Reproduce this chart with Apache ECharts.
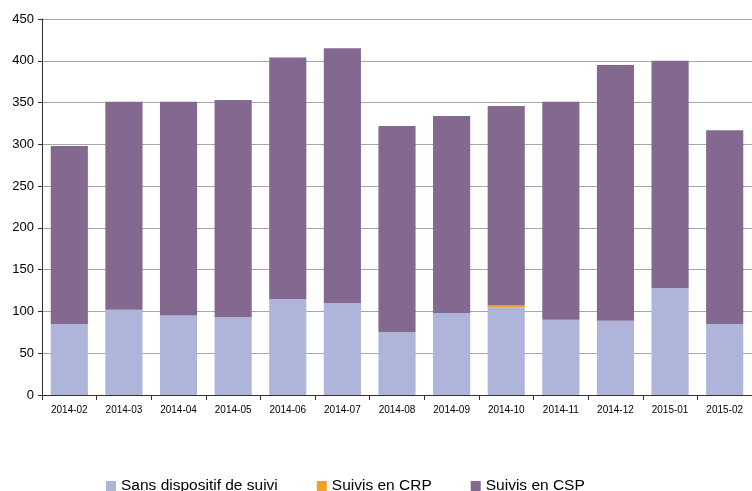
<!DOCTYPE html>
<html>
<head>
<meta charset="utf-8">
<script src="https://cdn.jsdelivr.net/npm/echarts@6/dist/echarts.min.js"></script>
<style>
  html, body { margin: 0; padding: 0; background: #fff; }
  #chart { width: 752px; height: 491px; }
</style>
</head>
<body>
<div id="chart"></div>
<script>
const months = ['2014-02', '2014-03', '2014-04', '2014-05', '2014-06', '2014-07', '2014-08', '2014-09', '2014-10', '2014-11', '2014-12', '2015-01', '2015-02']
const sansSuivi = [85, 102, 95, 93, 115, 110, 75, 98, 105, 90, 89, 128, 85]
const suivisCrp = [0, 0, 0, 0, 0, 0, 0, 0, 2, 0, 0, 0, 0]
const suivisCsp = [213, 249, 256, 260, 289, 305, 247, 236, 239, 261, 306, 272, 232]

const font = 'Liberation Sans, Arial, sans-serif'
const chart = echarts.init(document.getElementById('chart'))
chart.setOption({
  animation: false,
  grid: { left: 42, right: 0, top: 19, bottom: 96 },
  legend: {
    left: 106, top: 478, padding: 0, itemWidth: 10, itemHeight: 10, itemGap: 39,
    icon: 'rect',
    textStyle: { fontFamily: font, fontSize: 15.5, color: '#000', padding: [0, 0, 0, 0] },
    data: ['Sans dispositif de suivi', 'Suivis en CRP', 'Suivis en CSP'],
  },
  xAxis: {
    type: 'category', data: months,
    axisLine: { lineStyle: { color: '#333' } },
    axisTick: { show: true, alignWithLabel: false, length: 5, lineStyle: { color: '#333' } },
    axisLabel: { fontFamily: font, fontSize: 10, color: '#000', margin: 10, interval: 0 },
  },
  yAxis: {
    type: 'value', min: 0, max: 450, interval: 50,
    axisLine: { show: true, lineStyle: { color: '#333' } },
    axisTick: { show: true, length: 4, lineStyle: { color: '#333' } },
    axisLabel: { fontFamily: font, fontSize: 13, color: '#000', margin: 8 },
    splitLine: { lineStyle: { color: '#a6a6a6' } },
  },
  series: [
    { name: 'Sans dispositif de suivi', type: 'bar', stack: 'total', data: sansSuivi, barCategoryGap: '32%', itemStyle: { color: '#aeb4da' } },
    { name: 'Suivis en CRP', type: 'bar', stack: 'total', data: suivisCrp, itemStyle: { color: '#f4a024' } },
    { name: 'Suivis en CSP', type: 'bar', stack: 'total', data: suivisCsp, itemStyle: { color: '#83698f' } },
  ],
})
</script>
</body>
</html>
